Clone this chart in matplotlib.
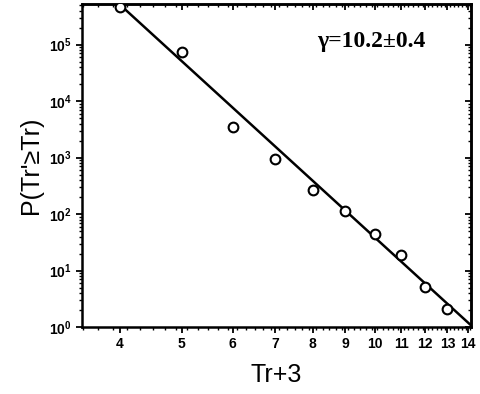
import numpy as np
import matplotlib
matplotlib.use("Agg")
import matplotlib.pyplot as plt
from matplotlib.ticker import FixedLocator, FixedFormatter, LogLocator, NullFormatter

plt.rcParams['mathtext.fontset'] = 'custom'
plt.rcParams['mathtext.rm'] = 'Liberation Sans:bold'
plt.rcParams['mathtext.bf'] = 'Liberation Sans:bold'
plt.rcParams['font.family'] = ['Liberation Sans', 'DejaVu Sans']

# data
x_vals = [4, 5, 6, 7, 8, 9, 10, 11, 12, 13]
p_vals = [4.7e5, 7.3e4, 3.45e3, 930, 263, 113, 45, 18.7, 5.2, 2.08]
fit_exponent = -10.35
fit_log10_amp = 11.94
x_ticks = [4, 5, 6, 7, 8, 9, 10, 11, 12, 13, 14]
x_ticklabels = ['4', '5', '6', '7', '8', '9', '10', '11', '12', '13', '14']
y_ticks = [1, 10, 100, 1e3, 1e4, 1e5]
y_ticklabels = [r'$\mathbf{10^{0}}$', r'$\mathbf{10^{1}}$', r'$\mathbf{10^{2}}$',
                r'$\mathbf{10^{3}}$', r'$\mathbf{10^{4}}$', r'$\mathbf{10^{5}}$']
annotation = 'γ=10.2±0.4'

fig = plt.figure(figsize=(4.81, 3.94), dpi=100)
ax = fig.add_axes([82/481, 1-327/394, (471-82)/481, (327-4)/394])

fit_x = np.array([4.0, 14.3])
fit_y = 10**fit_log10_amp * fit_x**fit_exponent
ax.plot(fit_x, fit_y, color='black', lw=1.8, zorder=2)
ax.plot(x_vals, p_vals, linestyle='none', marker='o', markersize=7,
        markerfacecolor='white', markeredgecolor='black', markeredgewidth=1.5, zorder=3,
        clip_on=True)

ax.set_xscale('log')
ax.set_yscale('log')
ax.set_xlim(3.49, 14.15)
ax.set_ylim(1, 10**5.72)

x_minor = np.arange(3.5, 14.2, 0.2)
ax.xaxis.set_major_locator(FixedLocator(x_ticks))
ax.xaxis.set_major_formatter(FixedFormatter(x_ticklabels))
ax.xaxis.set_minor_locator(FixedLocator(x_minor))
ax.xaxis.set_minor_formatter(NullFormatter())
ax.yaxis.set_major_locator(FixedLocator(y_ticks))
ax.yaxis.set_major_formatter(FixedFormatter(y_ticklabels))
ax.yaxis.set_minor_locator(LogLocator(base=10, subs=np.arange(2, 10), numticks=20))
ax.yaxis.set_minor_formatter(NullFormatter())

for s in ax.spines.values():
    s.set_linewidth(1.8)

ax.tick_params(which='major', direction='out', length=4, width=1.3, labelsize=10)
ax.tick_params(which='minor', direction='out', length=2.5, width=1.0)
for lab in ax.get_xticklabels():
    lab.set_fontweight('bold')

# top / right inward ticks (no labels)
secx = ax.secondary_xaxis('top')
secx.xaxis.set_major_locator(FixedLocator(x_ticks))
secx.xaxis.set_minor_locator(FixedLocator(x_minor))
secx.xaxis.set_major_formatter(NullFormatter())
secx.xaxis.set_minor_formatter(NullFormatter())
secx.tick_params(which='major', direction='in', length=4, width=1.3)
secx.tick_params(which='minor', direction='in', length=2.5, width=1.0)
secy = ax.secondary_yaxis('right')
secy.yaxis.set_major_locator(FixedLocator(y_ticks))
secy.yaxis.set_minor_locator(LogLocator(base=10, subs=np.arange(2, 10), numticks=20))
secy.yaxis.set_major_formatter(NullFormatter())
secy.yaxis.set_minor_formatter(NullFormatter())
secy.tick_params(which='major', direction='in', length=4, width=1.3)
secy.tick_params(which='minor', direction='in', length=2.5, width=1.0)
for sa in (secx, secy):
    for s in sa.spines.values():
        s.set_linewidth(1.8)

ax.set_xlabel('Tr+3', fontsize=18, labelpad=8)
ax.set_ylabel("P(Tr'≥Tr)", fontsize=18, labelpad=4)

ax.text(0.882, 0.885, annotation, transform=ax.transAxes, ha='right', va='center',
        fontsize=17, fontweight='bold', family=['Liberation Serif', 'DejaVu Serif'])

fig.savefig('out.png', dpi=100)
